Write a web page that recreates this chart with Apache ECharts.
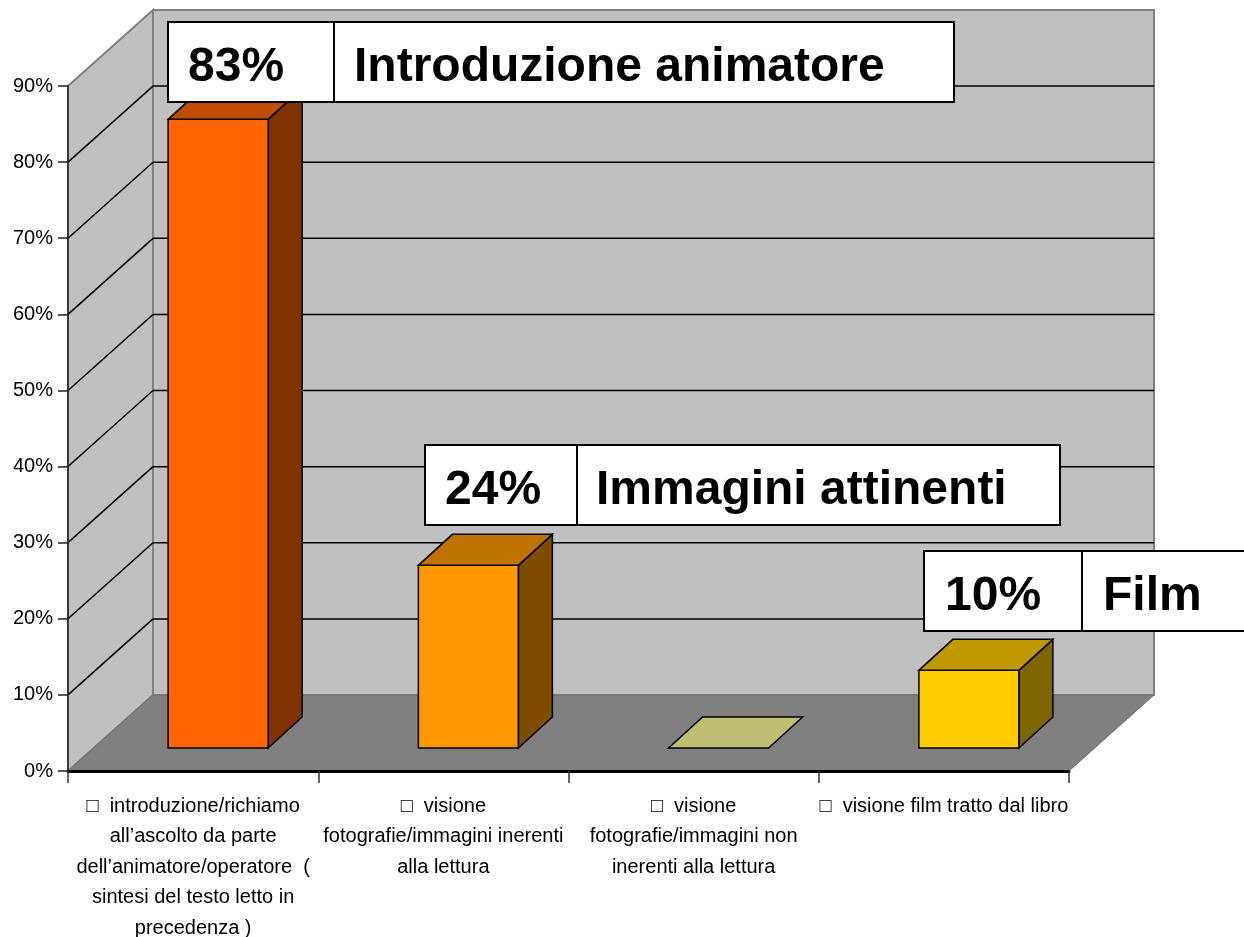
<!DOCTYPE html>
<html>
<head>
<meta charset="utf-8">
<style>
html, body { margin: 0; padding: 0; background: #fff; overflow: hidden; }
#chart { width: 1244px; height: 937px; }
</style>
<script src="https://cdn.jsdelivr.net/npm/echarts@6/dist/echarts.min.js"></script>
</head>
<body>
<div id="chart"></div>
<script>
// chart values
var categories = [
    '\u25A1  introduzione/richiamo\nall\u2019ascolto da parte\ndell\u2019animatore/operatore  (\nsintesi del testo letto in\nprecedenza )',
    '\u25A1  visione\nfotografie/immagini inerenti\nalla lettura',
    '\u25A1  visione\nfotografie/immagini non\ninerenti alla lettura',
    '\u25A1  visione film tratto dal libro'
];
var values = [82.6, 24, 0, 10.2];
var inner_ticks = [10, 20, 30, 40, 50, 60, 70, 80];
var front_colors = ['#FF6600', '#FF9900', '#FFFF99', '#FFCC00'];
var top_colors = ['#BF4C00', '#BF7300', '#BFBF73', '#BF9900'];
var side_colors = ['#803300', '#804D00', '#808040', '#806600'];
var box_percents = ['83%', '24%', '10%'];
var box_names = ['Introduzione animatore', 'Immagini attinenti', 'Film'];

// 3d look: how far the back wall and the bars are pushed
var WALL_DX = 85, WALL_DY = -76;
var BASE_DX = 25, BASE_DY = -23;
var BAR_DX = 34, BAR_DY = -31;
var BAR_HALF = 50;

function poly(points, fill, stroke, width) {
    return {
        type: 'polygon',
        shape: { points: points },
        style: { fill: fill, stroke: stroke || null, lineWidth: width || 0 }
    };
}

function line(x1, y1, x2, y2, color, width) {
    return {
        type: 'line',
        shape: { x1: x1, y1: y1, x2: x2, y2: y2 },
        style: { stroke: color, lineWidth: width }
    };
}

// side wall, back wall and floor
function renderWalls(params, api) {
    var cs = params.coordSys;
    var x0 = cs.x, x1 = cs.x + cs.width;
    var y0 = cs.y + cs.height, y1 = cs.y;
    var bx0 = x0 + WALL_DX, bx1 = x1 + WALL_DX;
    var by0 = y0 + WALL_DY, by1 = y1 + WALL_DY;
    return {
        type: 'group',
        children: [
            poly([[bx0, by1], [bx1, by1], [bx1, by0], [bx0, by0]], '#C0C0C0', '#808080', 2),
            poly([[x0, y1], [bx0, by1], [bx0, by0], [x0, y0]], '#C0C0C0', '#808080', 2),
            poly([[x0, y0], [bx0, by0], [bx1, by0], [x1, y0]], '#808080', '#6E6E6E', 1)
        ]
    };
}

// one grid line running along side wall and back wall
function renderGridLine(params, api) {
    var cs = params.coordSys;
    var y = api.coord([0, api.value(1)])[1];
    return {
        type: 'group',
        children: [
            line(cs.x, y, cs.x + WALL_DX, y + WALL_DY, '#000', 1.5),
            line(cs.x + WALL_DX, y + WALL_DY, cs.x + cs.width + WALL_DX, y + WALL_DY, '#000', 1.5)
        ]
    };
}

function renderBar(params, api) {
    var i = params.dataIndex;
    var base = api.coord([api.value(0), 0]);
    var peak = api.coord([api.value(0), api.value(1)]);
    var left = base[0] + BASE_DX - BAR_HALF;
    var right = base[0] + BASE_DX + BAR_HALF;
    var bottom = base[1] + BASE_DY;
    var top = peak[1] + BASE_DY;
    var children = [];
    if (api.value(1) > 0) {
        children.push(poly([[right, bottom], [right + BAR_DX, bottom + BAR_DY], [right + BAR_DX, top + BAR_DY], [right, top]],
            side_colors[i], '#000', 1.5));
        children.push(poly([[left, bottom], [right, bottom], [right, top], [left, top]],
            front_colors[i], '#000', 1.5));
    }
    children.push(poly([[left, top], [right, top], [right + BAR_DX, top + BAR_DY], [left + BAR_DX, top + BAR_DY]],
        top_colors[i], '#000', 1.5));
    return { type: 'group', children: children };
}

// white two part box above a bar
function makeBox(n, x0, x1, x2, y, h, textX0, textX1) {
    var textY = y + h / 2 + 6;
    return {
        type: 'group',
        children: [
            { type: 'rect', z: 100, shape: { x: x0, y: y, width: x1 - x0, height: h }, style: { fill: '#fff', stroke: '#000', lineWidth: 2 } },
            { type: 'rect', z: 100, shape: { x: x1, y: y, width: x2 - x1, height: h }, style: { fill: '#fff', stroke: '#000', lineWidth: 2 } },
            { type: 'text', z: 101, x: textX0, y: textY, style: { text: box_percents[n], font: 'bold 48px "Liberation Sans"', fill: '#000', verticalAlign: 'middle' } },
            { type: 'text', z: 101, x: textX1, y: textY, style: { text: box_names[n], font: 'bold 48px "Liberation Sans"', fill: '#000', verticalAlign: 'middle' } }
        ]
    };
}

var myChart = echarts.init(document.getElementById('chart'));

var option = {
    animation: false,
    textStyle: { fontFamily: '"Liberation Sans", Arial, sans-serif' },
    grid: { left: 68, right: 175, top: 86, bottom: 166, outerBoundsMode: 'none' },
    xAxis: {
        type: 'category',
        data: categories,
        z: 4,
        axisLine: { show: true, lineStyle: { color: '#000', width: 3 } },
        axisTick: { show: true, length: 12, alignWithLabel: false, lineStyle: { color: '#333', width: 1.5 } },
        axisLabel: { interval: 0, color: '#000', fontSize: 20, lineHeight: 30.5, margin: 20, align: 'center', verticalAlign: 'top' }
    },
    yAxis: {
        type: 'value',
        min: 0,
        max: 90,
        interval: 10,
        z: 4,
        splitLine: { show: false },
        axisLine: { show: true, lineStyle: { color: '#222', width: 1.5 } },
        axisTick: { show: true, length: 10, lineStyle: { color: '#222', width: 1.5 } },
        axisLabel: { color: '#000', fontSize: 20, margin: 15, formatter: '{value}%' }
    },
    series: [
        { type: 'custom', z: 1, silent: true, renderItem: renderWalls, data: [0] },
        {
            type: 'custom',
            z: 2,
            silent: true,
            renderItem: renderGridLine,
            encode: { x: 0, y: 1 },
            data: inner_ticks.map(function (t) { return [0, t]; })
        },
        {
            type: 'custom',
            z: 5,
            silent: true,
            renderItem: renderBar,
            encode: { x: 0, y: 1 },
            data: values.map(function (v, i) { return [i, v]; })
        }
    ],
    graphic: [
        makeBox(0, 168, 334, 954, 22, 80, 188, 354),
        makeBox(1, 425, 577, 1060, 445, 80, 445, 596),
        makeBox(2, 924, 1082, 1250, 551, 80, 945, 1103)
    ]
};

myChart.setOption(option);
</script>
</body>
</html>
